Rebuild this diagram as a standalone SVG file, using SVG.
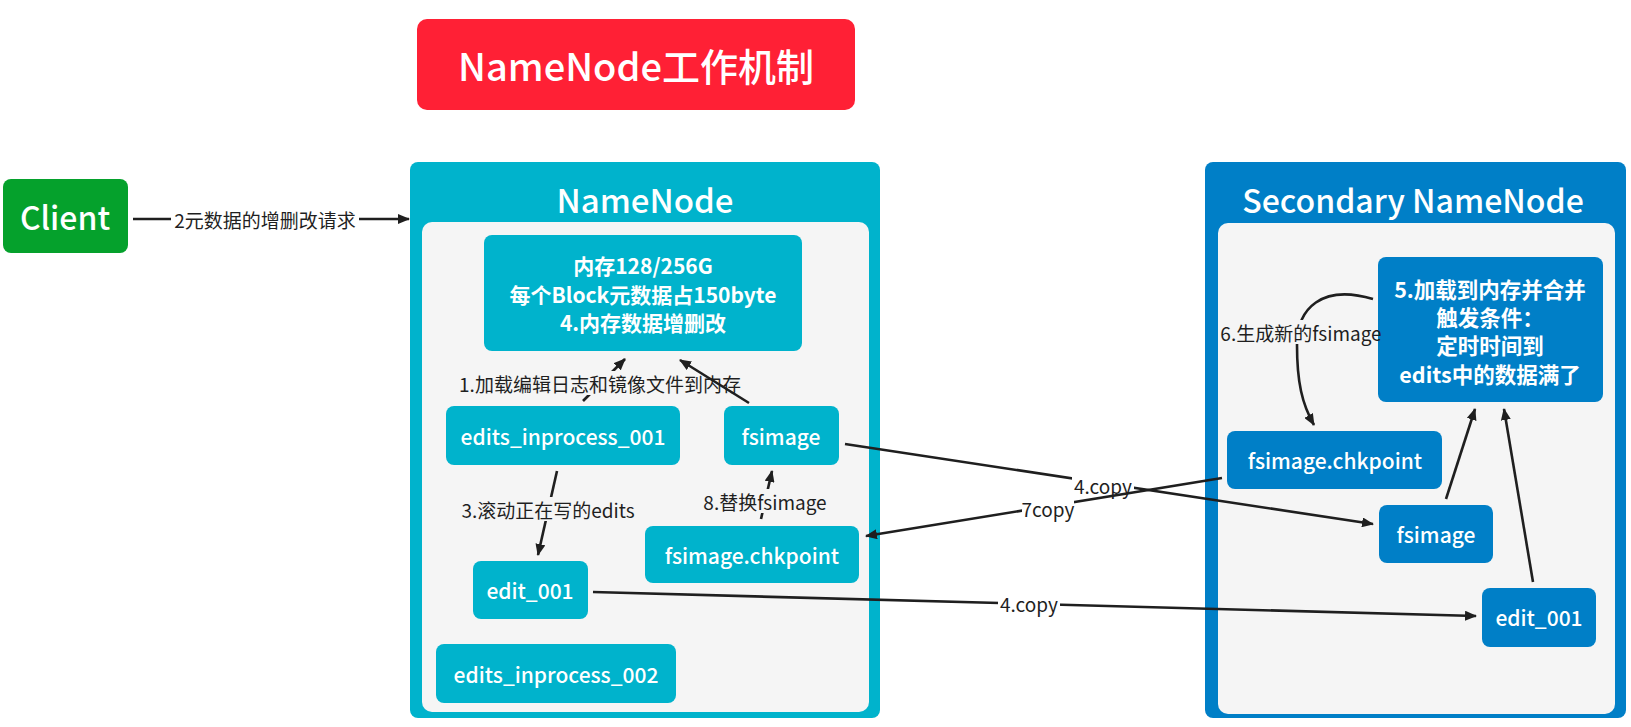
<svg xmlns="http://www.w3.org/2000/svg" width="1631" height="727" viewBox="0 0 1631 727">
<defs>
<marker id="ah" viewBox="0 0 12 10" refX="11" refY="5" markerWidth="12" markerHeight="10" markerUnits="userSpaceOnUse" orient="auto">
<path d="M0,0 L12,5 L0,10 Z" fill="#1f1f1f"/>
</marker>
<style>
text{font-family:"Noto Sans CJK SC","Noto Sans",sans-serif;text-anchor:middle;dominant-baseline:central}
.bt{fill:#fff;font-weight:500;font-size:21px}
.mt{fill:#fff;font-weight:bold;font-size:21px}
.ttl{fill:#fff;font-size:33px;font-weight:500}
.lbl{fill:#1f1f1f;font-size:19px}
.edge{stroke:#1f1f1f;stroke-width:2.6;fill:none;marker-end:url(#ah)}
.nn{fill:#00B3CC}
.snn{fill:#007FC7}
.panel{fill:#F5F5F5}
</style>
</defs>
<rect width="1631" height="727" fill="#fff"/>

<g id="title">
<rect x="417" y="19" width="438" height="91" rx="10" fill="#FF2035"/>
<text x="636" y="64" style="fill:#fff;font-size:38px;font-weight:500">NameNode工作机制</text>
</g>

<g id="client">
<rect x="3" y="179" width="125" height="74" rx="8" fill="#05A12C"/>
<text x="65" y="216" style="fill:#fff;font-size:32px;font-weight:500">Client</text>
</g>

<g id="namenode">
<rect x="410" y="162" width="470" height="556" rx="8" class="nn"/>
<text x="645" y="199" class="ttl">NameNode</text>
<rect x="422" y="222" width="447" height="490" rx="10" class="panel"/>
</g>

<g id="secondary-namenode">
<rect x="1205" y="162" width="421" height="556" rx="8" class="snn"/>
<text x="1413" y="199" class="ttl" style="font-size:32px">Secondary NameNode</text>
<rect x="1218" y="223" width="397" height="491" rx="10" class="panel"/>
</g>

<g id="memory">
<rect x="484" y="235" width="318" height="116" rx="8" class="nn"/>
<text x="643" y="265" class="mt">内存128/256G</text>
<text x="643" y="294" class="mt">每个Block元数据占150byte</text>
<text x="643" y="322" class="mt">4.内存数据增删改</text>
</g>

<g id="edits-inprocess-001">
<rect x="446" y="406" width="234" height="59" rx="8" class="nn"/>
<text x="563" y="436" class="bt">edits_inprocess_001</text>
</g>

<g id="fsimage-nn">
<rect x="724" y="406" width="115" height="59" rx="8" class="nn"/>
<text x="781" y="436" class="bt">fsimage</text>
</g>

<g id="fsimage-chkpoint-nn">
<rect x="645" y="526" width="214" height="57" rx="8" class="nn"/>
<text x="752" y="555" class="bt">fsimage.chkpoint</text>
</g>

<g id="edit-001-nn">
<rect x="473" y="561" width="115" height="58" rx="8" class="nn"/>
<text x="530" y="590" class="bt">edit_001</text>
</g>

<g id="edits-inprocess-002">
<rect x="436" y="644" width="240" height="59" rx="8" class="nn"/>
<text x="556" y="674" class="bt">edits_inprocess_002</text>
</g>

<g id="merge">
<rect x="1378" y="257" width="225" height="145" rx="8" class="snn"/>
<text x="1490" y="288" class="mt" style="font-size:21.5px">5.加载到内存并合并</text>
<text x="1490" y="316" class="mt" style="font-size:21.5px">触发条件：</text>
<text x="1490" y="344" class="mt" style="font-size:21.5px">定时时间到</text>
<text x="1490" y="373" class="mt" style="font-size:21.5px">edits中的数据满了</text>
</g>

<g id="fsimage-chkpoint-snn">
<rect x="1227" y="431" width="215" height="58" rx="8" class="snn"/>
<text x="1335" y="460" class="bt">fsimage.chkpoint</text>
</g>

<g id="fsimage-snn">
<rect x="1379" y="505" width="114" height="58" rx="8" class="snn"/>
<text x="1436" y="534" class="bt">fsimage</text>
</g>

<g id="edit-001-snn">
<rect x="1482" y="588" width="114" height="59" rx="8" class="snn"/>
<text x="1539" y="617" class="bt">edit_001</text>
</g>

<g id="connectors">
<line x1="133" y1="219" x2="409" y2="219" class="edge"/>
<rect x="171" y="207" width="188" height="24" fill="#fff"/>
<text x="265" y="219" class="lbl">2元数据的增删改请求</text>

<line x1="583" y1="401" x2="625" y2="359" class="edge"/>
<rect x="458" y="371" width="284" height="24" fill="#F5F5F5"/>
<text x="600" y="383" class="lbl">1.加载编辑日志和镜像文件到内存</text>

<line x1="749" y1="403" x2="680" y2="360" class="edge"/>

<line x1="557" y1="471" x2="538" y2="555" class="edge"/>
<rect x="461" y="497" width="174" height="24" fill="#F5F5F5"/>
<text x="548" y="509" class="lbl">3.滚动正在写的edits</text>

<line x1="761" y1="519" x2="772" y2="471" class="edge"/>
<rect x="703" y="489" width="125" height="24" fill="#F5F5F5"/>
<text x="765" y="501" class="lbl">8.替换fsimage</text>

<line x1="845" y1="444" x2="1373" y2="524" class="edge"/>
<rect x="1072" y="473" width="62" height="24" fill="#fff"/>
<text x="1103" y="485" class="lbl">4.copy</text>

<line x1="1222" y1="478" x2="866" y2="536" class="edge"/>
<rect x="1022" y="496" width="52" height="24" fill="#fff"/>
<text x="1048" y="508" class="lbl">7copy</text>

<line x1="593" y1="592" x2="1476" y2="616" class="edge"/>
<rect x="998" y="591" width="62" height="24" fill="#fff"/>
<text x="1029" y="603" class="lbl">4.copy</text>

<path d="M1373,299 C1322,284 1297,308 1297,345 C1297,382 1302,404 1314,425" class="edge"/>
<rect x="1220" y="320" width="158" height="24" fill="#F5F5F5"/>
<text x="1301" y="332" class="lbl">6.生成新的fsimage</text>

<line x1="1446" y1="499" x2="1475" y2="409" class="edge"/>
<line x1="1533" y1="582" x2="1504" y2="409" class="edge"/>
</g>
</svg>
